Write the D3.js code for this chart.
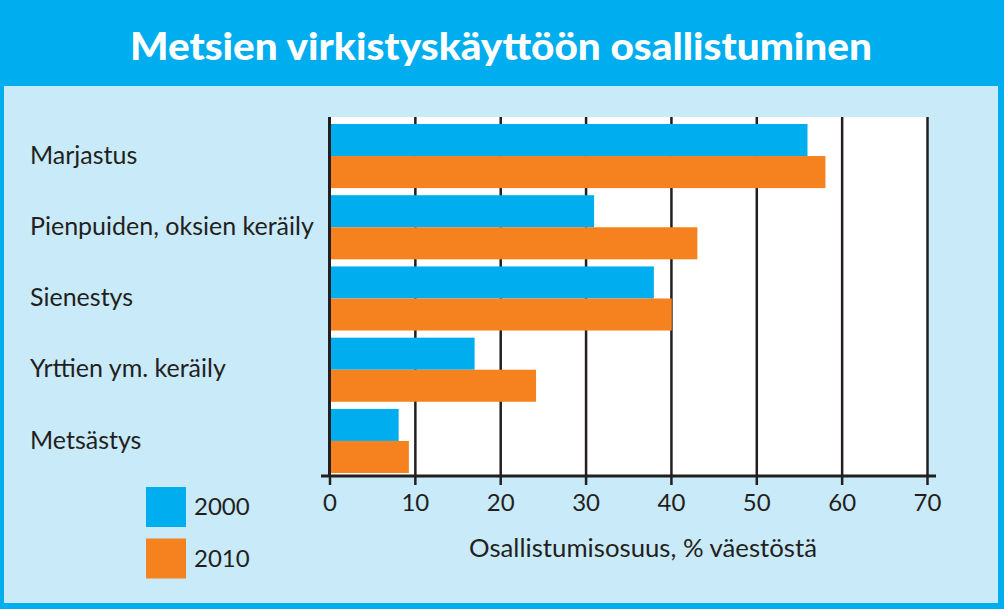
<!DOCTYPE html>
<html><head><meta charset="utf-8">
<script src="https://cdn.jsdelivr.net/npm/d3@7"></script>
<style>
html,body{margin:0;padding:0;background:#fff;}
svg{display:block;}
text{font-family:"Lato","Noto Sans",sans-serif;fill:#231F20;}
</style></head>
<body>
<svg id="chart" width="1004" height="609"></svg>
<script>
const title = "Metsien virkistyskäyttöön osallistuminen";
const categories = ["Marjastus","Pienpuiden, oksien keräily","Sienestys","Yrttien ym. keräily","Metsästys"];
const seriesNames = ["2000","2010"];
const values2000 = [56, 31, 38, 17, 8.1];
const values2010 = [58.1, 43.1, 40.1, 24.2, 9.3];
const tickValues = [0,10,20,30,40,50,60,70];
const axisTitle = "Osallistumisosuus, % väestöstä";
const colors = ["#00AEEF","#F5821F"];

(function(){
const svg = d3.select("#chart");
svg.append("rect").attr("x",0).attr("y",0).attr("width",1004).attr("height",609).attr("fill","#00AEEF");
svg.append("rect").attr("x",4).attr("y",86).attr("width",994).attr("height",517).attr("fill","#C9EAF9");
svg.append("text").attr("x",501).attr("y",60).attr("text-anchor","middle")
  .style("fill","#fff").style("font-weight","900").style("font-size","38px")
  .attr("textLength",742).attr("lengthAdjust","spacingAndGlyphs").text(title);

const pL=329.5, pR=927, pT=117, pB=476;
const x = d3.scaleLinear().domain([0,70]).range([pL,pR]);
const y = d3.scaleBand().domain(categories).range([pT,pB]).paddingInner(0.1).paddingOuter(0.07).align(0.7);
const ySub = d3.scaleBand().domain(seriesNames).range([0,y.bandwidth()]);

svg.append("rect").attr("x",pL).attr("y",pT).attr("width",pR-pL).attr("height",pB-pT).attr("fill","#fff");

svg.append("g").attr("transform",`translate(0,${pB})`)
  .call(d3.axisBottom(x).tickValues(tickValues.slice(1)).tickSize(-(pB-pT)).tickFormat(""))
  .call(g=>g.select(".domain").remove())
  .call(g=>g.selectAll("line").attr("stroke","#231F20").attr("stroke-width",2.5));

const data = categories.map((c,i)=>({c, vals:[values2000[i],values2010[i]]}));
const grp = svg.append("g").selectAll("g").data(data).join("g")
  .attr("transform",d=>`translate(0,${y(d.c)})`);
grp.selectAll("rect").data(d=>d.vals.map((v,j)=>({v,s:seriesNames[j],j}))).join("rect")
  .attr("x",x(0)).attr("y",d=>ySub(d.s)).attr("height",ySub.bandwidth())
  .attr("width",d=>x(d.v)-x(0)).attr("fill",d=>colors[d.j]);

svg.append("line").attr("x1",x(0)).attr("x2",x(0)).attr("y1",pT).attr("y2",pB).attr("stroke","#231F20").attr("stroke-width",3);
svg.append("line").attr("x1",321).attr("x2",936).attr("y1",pB).attr("y2",pB).attr("stroke","#231F20").attr("stroke-width",3);
const ax = svg.append("g").attr("transform",`translate(0,${pB})`)
  .call(d3.axisBottom(x).tickValues(tickValues).tickSize(9).tickPadding(9).tickFormat(d3.format("d")));
ax.select(".domain").remove();
ax.selectAll("line").attr("stroke","#231F20").attr("stroke-width",2.5);
ax.selectAll("text").style("font-size","24px").style("font-family",'"Lato","Noto Sans",sans-serif').attr("fill","#231F20");

svg.append("text").attr("x",643).attr("y",557).attr("text-anchor","middle").style("font-size","25px")
  .attr("textLength",348).attr("lengthAdjust","spacingAndGlyphs").text(axisTitle);

svg.append("g").selectAll("text").data(categories).join("text")
  .attr("x",30).attr("y",d=>y(d)+y.bandwidth()/2-1).attr("dy","0.35em")
  .style("font-size","25px").text(d=>d);

const leg = svg.append("g").selectAll("g").data(seriesNames).join("g")
  .attr("transform",(d,i)=>`translate(146,${487+i*51.5})`);
leg.append("rect").attr("width",40).attr("height",40).attr("fill",(d,i)=>colors[i]);
leg.append("text").attr("x",48).attr("y",20).attr("dy","0.35em").style("font-size","24px").text(d=>d);
})();
</script>
</body></html>
